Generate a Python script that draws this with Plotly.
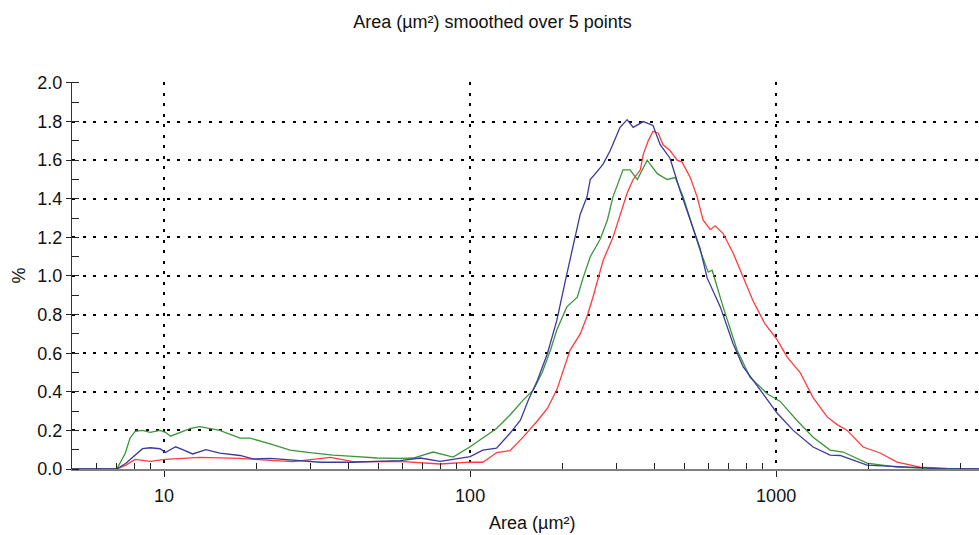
import plotly.graph_objects as go

# ---- data ----
blue_x = [5.0, 7.0, 7.5, 8.0, 8.5, 9.0, 9.7, 10.1, 10.5, 10.9, 11.5, 12.4, 13.7, 15.2, 17.7,
          19.5, 22.2, 26.4, 32.4, 41.5, 50, 59, 68.7, 79.8, 88, 100, 110, 122, 135, 146, 155,
          166, 179, 192, 207, 217, 229, 241, 247, 266, 272, 287, 309, 326, 341, 368, 396, 418,
          450, 486, 524, 565, 595, 657, 723, 780, 887, 1007, 1137, 1321, 1501, 1618, 1983,
          2955, 3600, 4603]
blue_y = [0, 0, 0.03, 0.07, 0.105, 0.11, 0.105, 0.085, 0.10, 0.115, 0.10, 0.078, 0.10, 0.082, 0.07,
          0.052, 0.055, 0.047, 0.035, 0.035, 0.04, 0.043, 0.057, 0.04, 0.05, 0.064, 0.098, 0.108,
          0.185, 0.253, 0.357, 0.46, 0.60, 0.77, 1.01, 1.15, 1.32, 1.41, 1.50, 1.56, 1.58, 1.65,
          1.77, 1.81, 1.77, 1.80, 1.78, 1.68, 1.61, 1.44, 1.29, 1.14, 0.99, 0.84, 0.65, 0.53, 0.41,
          0.29, 0.20, 0.114, 0.072, 0.07, 0.02, 0.005, 0, 0]

green_x = [5.0, 7.0, 7.46, 7.74, 8.04, 8.5, 9.0, 9.7, 10.1, 10.5, 11.3, 12.2, 13.1, 14.1, 15.2,
           17.7, 19.1, 22.2, 25.8, 30, 35.6, 41.5, 49.7, 59, 65.2, 75.7, 88, 100, 110, 122, 135,
           149, 161, 172, 183, 192, 207, 224, 234, 247, 266, 281, 293, 316, 333, 352, 379, 409,
           440, 468, 497, 524, 565, 600, 618, 671, 746, 822, 935, 1031, 1172, 1321, 1501, 1656,
           1983, 2485, 3260, 4603]
green_y = [0, 0, 0.08, 0.16, 0.195, 0.20, 0.19, 0.20, 0.19, 0.17, 0.19, 0.21, 0.22, 0.21, 0.20,
           0.16, 0.16, 0.13, 0.098, 0.085, 0.072, 0.065, 0.057, 0.055, 0.057, 0.088, 0.062, 0.115,
           0.16, 0.21, 0.28, 0.357, 0.41, 0.50, 0.615, 0.72, 0.84, 0.89, 0.99, 1.10, 1.19, 1.29,
           1.41, 1.55, 1.55, 1.50, 1.60, 1.53, 1.50, 1.51, 1.41, 1.29, 1.13, 1.02, 1.03, 0.84,
           0.615, 0.475, 0.39, 0.35, 0.25, 0.165, 0.098, 0.088, 0.03, 0.01, 0.003, 0]

red_x = [5.0, 7.0, 7.5, 8.04, 9.0, 10.1, 13.1, 17.7, 22.2, 26.4, 34.9, 41.5, 59, 79.8, 100, 110,
         116, 122, 135, 149, 166, 179, 192, 201, 212, 229, 241, 252, 266, 272, 293, 309, 326,
         341, 360, 368, 382, 396, 412, 427, 450, 475, 493, 524, 552, 577, 609, 632, 671, 723,
         780, 841, 921, 1007, 1087, 1198, 1321, 1468, 1582, 1707, 1924, 2187, 2485, 2955, 3623,
         4603]
red_y = [0, 0, 0.02, 0.05, 0.04, 0.05, 0.06, 0.055, 0.045, 0.038, 0.06, 0.038, 0.04, 0.026, 0.036,
         0.035, 0.06, 0.085, 0.095, 0.165, 0.25, 0.315, 0.41, 0.51, 0.615, 0.70, 0.79, 0.89, 1.03,
         1.08, 1.20, 1.32, 1.43, 1.50, 1.55, 1.63, 1.70, 1.75, 1.74, 1.68, 1.65, 1.60, 1.59, 1.51,
         1.41, 1.29, 1.24, 1.26, 1.22, 1.12, 0.99, 0.87, 0.75, 0.67, 0.58, 0.50, 0.37, 0.27, 0.23,
         0.20, 0.114, 0.083, 0.036, 0.01, 0.003, 0]

x_major_ticks = [10, 100, 1000]
x_major_labels = ["10", "100", "1000"]
x_minor_ticks = [6, 7, 8, 9, 20, 30, 40, 50, 60, 70, 80, 90,
                 200, 300, 400, 500, 600, 700, 800, 900, 2000, 3000, 4000]
y_ticks = [0.0, 0.2, 0.4, 0.6, 0.8, 1.0, 1.2, 1.4, 1.6, 1.8, 2.0]
y_labels = ["0.0", "0.2", "0.4", "0.6", "0.8", "1.0", "1.2", "1.4", "1.6", "1.8", "2.0"]

title_text = "Area (µm²) smoothed over 5 points"
x_title = "Area (µm²)"
y_title = "%"

FONT = "Liberation Sans, Arial, sans-serif"

fig = go.Figure()
fig.add_trace(go.Scatter(x=red_x, y=red_y, mode="lines",
                         line=dict(color="#ff3b3b", width=1.3), showlegend=False))
fig.add_trace(go.Scatter(x=green_x, y=green_y, mode="lines",
                         line=dict(color="#3a963a", width=1.3), showlegend=False))
fig.add_trace(go.Scatter(x=blue_x, y=blue_y, mode="lines",
                         line=dict(color="#3a3a9c", width=1.3), showlegend=False))

fig.update_layout(
    width=979, height=535,
    margin=dict(l=72, r=0, t=82, b=66),
    paper_bgcolor="white", plot_bgcolor="white",
    font=dict(family=FONT, size=18, color="#111111"),
    title=dict(text=title_text, x=0.503, xanchor="center", y=1 - 22 / 535, yanchor="middle",
               font=dict(family=FONT, size=18, color="#111111")),
    xaxis=dict(
        type="log", range=[0.69897, 3.663],
        tickmode="array", tickvals=x_major_ticks, ticktext=x_major_labels,
        ticks="outside", ticklen=6, tickwidth=1, tickcolor="#222222",
        ticklabelstandoff=3,
        showline=True, linecolor="#7f7f7f", linewidth=2,
        showgrid=True, gridcolor="black", gridwidth=2, griddash="3px,7.5px",
        zeroline=False,
        minor=dict(tickmode="array", tickvals=x_minor_ticks, ticks="inside", ticklen=6,
                   tickwidth=1, tickcolor="#222222", showgrid=False),
    ),
    yaxis=dict(
        range=[0, 2.005],
        tickmode="array", tickvals=y_ticks, ticktext=y_labels,
        ticks="outside", ticklen=5, tickwidth=1, tickcolor="#222222",
        showline=True, linecolor="#333333", linewidth=1,
        showgrid=True, gridcolor="black", gridwidth=2, griddash="3px,7.5px",
        zeroline=False,
        minor=dict(dtick=0.1, tick0=0, ticks="inside", ticklen=7, tickwidth=1,
                   tickcolor="#222222", showgrid=False),
    ),
    annotations=[
        dict(text=x_title, xref="paper", yref="paper", x=0.507, y=-0.1395,
             xanchor="center", yanchor="middle", showarrow=False,
             font=dict(family=FONT, size=18, color="#111111")),
        dict(text=y_title, xref="paper", yref="paper", x=-0.0595, y=0.5,
             xanchor="center", yanchor="middle", showarrow=False, textangle=-90,
             font=dict(family=FONT, size=18, color="#111111")),
    ],
)

fig.write_html("out.html")
